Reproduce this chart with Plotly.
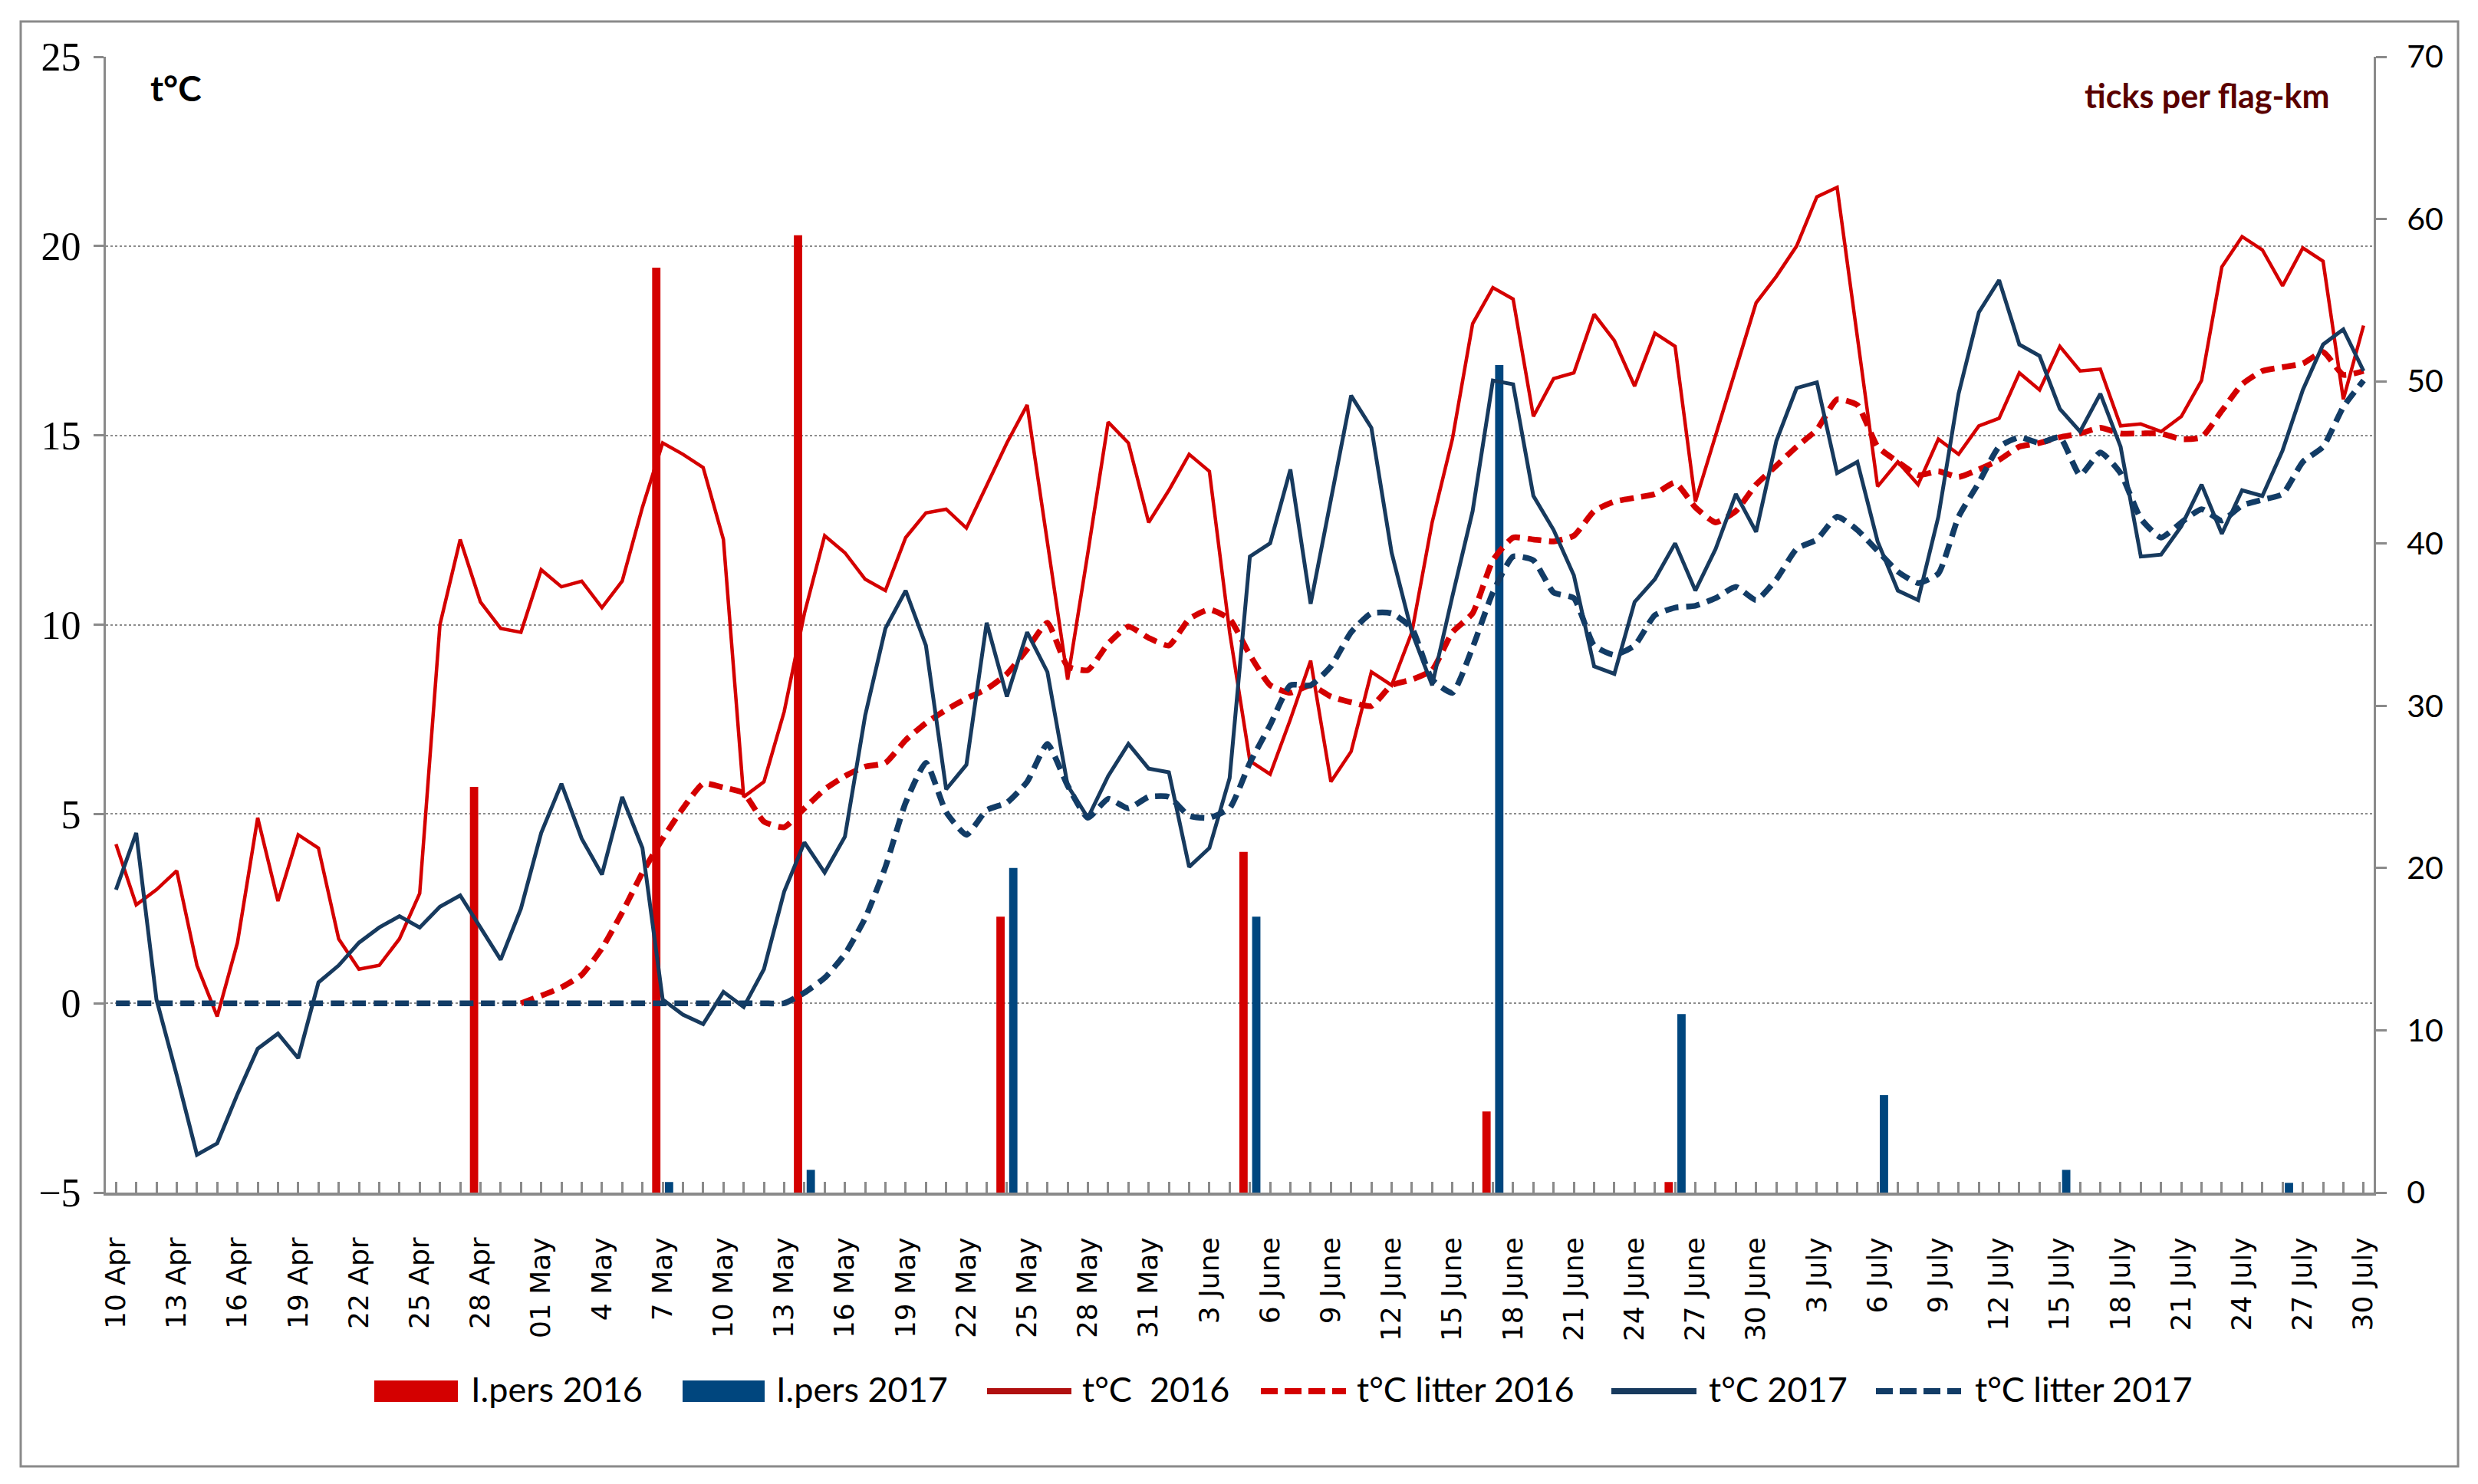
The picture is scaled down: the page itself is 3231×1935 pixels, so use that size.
import plotly.graph_objects as go

# ---------------- data ----------------
months = [("Apr", 10, 30), ("May", 1, 31), ("June", 1, 30), ("July", 1, 30)]
dates = [f"{d} {m}" for m, a, b in months for d in range(a, b + 1)]

tick_labels = ["10 Apr", "13 Apr", "16 Apr", "19 Apr", "22 Apr", "25 Apr", "28 Apr",
               "01 May", "4 May", "7 May", "10 May", "13 May", "16 May", "19 May",
               "22 May", "25 May", "28 May", "31 May", "3 June", "6 June", "9 June",
               "12 June", "15 June", "18 June", "21 June", "24 June", "27 June",
               "30 June", "3 July", "6 July", "9 July", "12 July", "15 July",
               "18 July", "21 July", "24 July", "27 July", "30 July"]

t2016 = [4.2, 2.6, 3.0, 3.5, 1.0, -0.35, 1.6, 4.9, 2.7, 4.45,
         4.1, 1.7, 0.9, 1.0, 1.7, 2.9, 10.0, 12.25, 10.6, 9.9,
         9.8, 11.45, 11.0, 11.15, 10.45, 11.15, 13.1, 14.8, 14.5, 14.15,
         12.25, 5.45, 5.85, 7.7, 10.3, 12.35, 11.9, 11.2, 10.9, 12.3,
         12.95, 13.05, 12.55, 13.65, 14.8, 15.8, 12.2, 8.55, 11.9, 15.35,
         14.8, 12.7, 13.55, 14.5, 14.05, 9.8, 6.4, 6.05, 7.5, 9.05,
         5.85, 6.65, 8.75, 8.4, 9.8, 12.7, 14.9, 17.95, 18.9, 18.6,
         15.5, 16.5, 16.65, 18.2, 17.5, 16.3, 17.7, 17.35, 13.25, 15.0,
         16.8, 18.5, 19.2, 20.0, 21.3, 21.55, 17.6, 13.65, 14.3, 13.7,
         14.9, 14.5, 15.25, 15.45, 16.65, 16.2, 17.35, 16.7, 16.75, 15.25,
         15.3, 15.1, 15.5, 16.45, 19.45, 20.25, 19.9, 18.95, 19.95, 19.6,
         15.95, 17.9]

t2017 = [3.0, 4.5, 0.1, -1.9, -4.0, -3.7, -2.4, -1.2, -0.8, -1.45,
         0.55, 1.0, 1.6, 2.0, 2.3, 2.0, 2.55, 2.85, 2.0, 1.15,
         2.5, 4.5, 5.8, 4.35, 3.4, 5.45, 4.1, 0.1, -0.3, -0.55,
         0.3, -0.1, 0.9, 2.95, 4.25, 3.45, 4.4, 7.6, 9.9, 10.9,
         9.45, 5.65, 6.3, 10.05, 8.1, 9.8, 8.75, 5.75, 4.9, 6.0,
         6.85, 6.2, 6.1, 3.6, 4.1, 5.95, 11.8, 12.15, 14.1, 10.55,
         13.3, 16.05, 15.2, 11.9, 9.8, 8.4, 10.75, 13.0, 16.45, 16.35,
         13.4, 12.5, 11.3, 8.9, 8.7, 10.6, 11.2, 12.15, 10.9, 12.0,
         13.45, 12.45, 14.85, 16.25, 16.4, 14.0, 14.3, 12.2, 10.9, 10.65,
         12.85, 16.1, 18.25, 19.1, 17.4, 17.1, 15.7, 15.1, 16.1, 14.7,
         11.8, 11.85, 12.6, 13.7, 12.4, 13.55, 13.4, 14.6, 16.2, 17.4,
         17.8, 16.7]

litter2016 = [None] * 20 + [
    0.0, 0.2, 0.42, 0.75, 1.45, 2.4, 3.45, 4.35, 5.15, 5.8,
    5.7, 5.55, 4.8, 4.65, 5.15, 5.65, 6.0, 6.25, 6.35, 6.95,
    7.4, 7.75, 8.05, 8.3, 8.7, 9.35, 10.05, 8.9, 8.8, 9.5,
    9.95, 9.65, 9.45, 10.15, 10.4, 10.15, 9.2, 8.4, 8.2, 8.4,
    8.1, 7.95, 7.85, 8.4, 8.55, 8.8, 9.8, 10.3, 11.7, 12.3,
    12.25, 12.2, 12.35, 13.0, 13.25, 13.35, 13.45, 13.75, 13.1, 12.7,
    13.0, 13.7, 14.2, 14.7, 15.15, 15.95, 15.8, 14.7, 14.3, 13.95,
    14.05, 13.9, 14.1, 14.35, 14.7, 14.8, 14.95, 15.05, 15.2, 15.05,
    15.05, 15.05, 14.9, 14.95, 15.65, 16.35, 16.7, 16.8, 16.9, 17.2,
    16.6, 16.7]

litter2017 = [0.0] * 34 + [
    0.28, 0.67, 1.3, 2.25, 3.6, 5.3, 6.35, 5.05, 4.45, 5.1,
    5.3, 5.85, 6.85, 5.75, 4.9, 5.4, 5.15, 5.45, 5.45, 4.95,
    4.9, 5.15, 6.35, 7.35, 8.4, 8.4, 8.9, 9.8, 10.3, 10.3,
    9.9, 8.55, 8.2, 9.4, 10.85, 11.8, 11.7, 10.85, 10.7, 9.45,
    9.2, 9.45, 10.25, 10.45, 10.5, 10.7, 11.0, 10.65, 11.2, 12.0,
    12.25, 12.85, 12.5, 11.95, 11.4, 11.1, 11.35, 12.85, 13.75, 14.7,
    14.95, 14.8, 14.95, 13.95, 14.55, 14.0, 12.8, 12.3, 12.7, 13.05,
    12.75, 13.15, 13.3, 13.45, 14.3, 14.7, 15.75, 16.45]

lpers2016_dates = ["28 Apr", "7 May", "14 May", "24 May", "5 June", "17 June", "26 June"]
lpers2016 = [25, 57, 59, 17, 21, 5, 0.65]
lpers2017_dates = ["7 May", "14 May", "24 May", "5 June", "17 June", "26 June",
                   "6 July", "15 July", "26 July"]
lpers2017 = [0.65, 1.4, 20, 17, 51, 11, 6, 1.4, 0.6]

# ---------------- style ----------------
PAGE_W, PAGE_H = 3231, 1935
OFF = 8                                   # default body margin of the html page
W, H = PAGE_W - OFF, PAGE_H - OFF
# plot area in page px, converted to figure px
L, R, T, B = 138 - OFF, 3095 - OFF, 74 - OFF, 1555 - OFF
RED_BAR, BLUE_BAR = "#d40000", "#00467e"
RED_LINE, NAVY_LINE = "#d40000", "#173a5e"
RED_DASH, NAVY_DASH = "#d40000", "#123c66"
AXIS_GREY = "#8a8a8a"


def px(xp):
    """page pixel x -> paper coordinate"""
    return (xp - OFF - L) / (R - L)


def py(yp):
    """page pixel y -> paper coordinate"""
    return (B - (yp - OFF)) / (B - T)


fig = go.Figure()

fig.add_trace(go.Bar(x=lpers2016_dates, y=lpers2016, name="I.pers 2016",
                     marker=dict(color=RED_BAR, line=dict(width=0)),
                     width=0.41, offset=-0.52, xaxis="x", yaxis="y",
                     showlegend=False))
fig.add_trace(go.Bar(x=lpers2017_dates, y=lpers2017, name="I.pers 2017",
                     marker=dict(color=BLUE_BAR, line=dict(width=0)),
                     width=0.41, offset=0.11, xaxis="x", yaxis="y",
                     showlegend=False))

fig.add_trace(go.Scatter(x=dates, y=t2016, name="t°C  2016", mode="lines",
                         line=dict(color=RED_LINE, width=4.5),
                         xaxis="x", yaxis="y2", showlegend=False))
fig.add_trace(go.Scatter(x=dates, y=litter2016, name="t°C litter 2016", mode="lines",
                         line=dict(color=RED_DASH, width=7.5, dash="18px,10px",
                                   shape="spline", smoothing=0.5),
                         connectgaps=False, xaxis="x", yaxis="y2", showlegend=False))
fig.add_trace(go.Scatter(x=dates, y=t2017, name="t°C 2017", mode="lines",
                         line=dict(color=NAVY_LINE, width=5),
                         xaxis="x", yaxis="y2", showlegend=False))
fig.add_trace(go.Scatter(x=dates, y=litter2017, name="t°C litter 2017", mode="lines",
                         line=dict(color=NAVY_DASH, width=7.5, dash="18px,10px",
                                   shape="spline", smoothing=0.5),
                         xaxis="x", yaxis="y2", showlegend=False))

n = len(dates)
fig.update_layout(
    width=W, height=H,
    margin=dict(l=L, r=W - R, t=T, b=H - B, pad=0),
    paper_bgcolor="white", plot_bgcolor="white",
    barmode="overlay",
    showlegend=False,
    xaxis=dict(type="category", categoryorder="array", categoryarray=dates,
               range=[-0.5, n - 0.5],
               tickmode="array", tickvals=dates,
               ticktext=[tick_labels[i // 3] if i % 3 == 0 else "" for i in range(n)],
               ticks="inside", ticklen=14, tickwidth=3, tickcolor=AXIS_GREY,
               tickangle=-90, ticklabelstandoff=40,
               tickfont=dict(family="DejaVu Sans", size=36, color="black"),
               showline=True, linecolor=AXIS_GREY, linewidth=4,
               showgrid=False, zeroline=False),
    xaxis2=dict(overlaying="x", anchor="y", side="bottom", type="linear",
                range=[-0.5, n - 0.5],
                tickmode="array", tickvals=[k - 0.5 for k in range(n + 1)],
                ticks="outside", ticklen=18, tickwidth=3, tickcolor=AXIS_GREY,
                showticklabels=False, showline=False, showgrid=False, zeroline=False),
    yaxis=dict(side="right", range=[0, 70], tickmode="linear", tick0=0, dtick=10,
               ticks="outside", ticklen=14, tickwidth=3, tickcolor=AXIS_GREY,
               showline=True, linecolor=AXIS_GREY, linewidth=3,
               showgrid=False, zeroline=False, ticklabelstandoff=18,
               tickfont=dict(family="Lato", size=41, color="black")),
    yaxis2=dict(overlaying="y", side="left", range=[-5, 25], tickmode="linear",
                tick0=-5, dtick=5,
                ticks="outside", ticklen=13, tickwidth=3, tickcolor=AXIS_GREY,
                showline=True, linecolor=AXIS_GREY, linewidth=3,
                showgrid=True, gridcolor="#8c8c8c", gridwidth=2, griddash="dot",
                zeroline=False, ticklabelstandoff=6,
                tickfont=dict(family="Liberation Serif", size=52, color="black")),
)

shapes = []
annotations = []

# outer frame
shapes.append(dict(type="rect", xref="paper", yref="paper",
                   x0=px(27), x1=px(3205), y0=py(1912), y1=py(28),
                   line=dict(color=AXIS_GREY, width=3), fillcolor="rgba(0,0,0,0)",
                   layer="below"))

# axis titles (text inside plot)
annotations.append(dict(text="<b>t°C</b>", xref="paper", yref="paper",
                        x=px(194), y=py(114), xanchor="left", yanchor="middle",
                        showarrow=False, font=dict(family="Lato", size=46, color="black")))
annotations.append(dict(text="<b>ticks per flag-km</b>", xref="paper", yref="paper",
                        x=px(3040), y=py(124), xanchor="right", yanchor="middle",
                        showarrow=False, font=dict(family="Lato", size=43, color="#5a0000")))

# manual legend
LEG_Y = 1814
leg_font = dict(family="Lato", size=45, color="black")
legend_items = [
    ("box", RED_BAR, None, 488, 597, 612, "I.pers 2016"),
    ("box", BLUE_BAR, None, 890, 997, 1010, "I.pers 2017"),
    ("line", "#b01010", "solid", 1287, 1397, 1409, "t°C  2016"),
    ("line", RED_DASH, "22px,9px", 1644, 1755, 1767, "t°C litter 2016"),
    ("line", NAVY_LINE, "solid", 2101, 2212, 2226, "t°C 2017"),
    ("line", NAVY_DASH, "22px,9px", 2446, 2557, 2573, "t°C litter 2017"),
]
for kind, col, dash, x0, x1, xt, label in legend_items:
    if kind == "box":
        shapes.append(dict(type="rect", xref="paper", yref="paper",
                           x0=px(x0), x1=px(x1), y0=py(LEG_Y + 14), y1=py(LEG_Y - 14),
                           fillcolor=col, line=dict(width=0)))
    else:
        shapes.append(dict(type="line", xref="paper", yref="paper",
                           x0=px(x0), x1=px(x1), y0=py(LEG_Y), y1=py(LEG_Y),
                           line=dict(color=col, width=8, dash=dash)))
    annotations.append(dict(text=label, xref="paper", yref="paper",
                            x=px(xt), y=py(LEG_Y - 3), xanchor="left", yanchor="middle",
                            showarrow=False, font=leg_font))

fig.update_layout(shapes=shapes, annotations=annotations)

fig.write_html("out.html")
